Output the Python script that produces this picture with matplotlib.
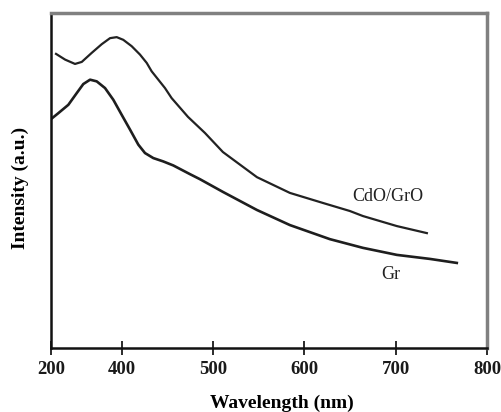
import matplotlib
matplotlib.use("Agg")
import matplotlib.pyplot as plt

# CdO/GrO curve (upper)
cdo_wl = [327.7, 337.6, 348.5, 355.9, 366.8, 377.8, 386.9, 394.2, 401.4, 410.6,
          419.7, 427.1, 432.5, 439.8, 447.1, 454.4, 472.3, 490.9, 510.6, 547.9,
          584.0, 620.2, 649.7, 664.0, 701.2, 734.1]
cdo_int = [0.878, 0.861, 0.848, 0.854, 0.881, 0.907, 0.925, 0.928, 0.920, 0.901,
           0.876, 0.851, 0.826, 0.801, 0.776, 0.746, 0.690, 0.642, 0.585, 0.510,
           0.463, 0.433, 0.409, 0.394, 0.364, 0.343]

# Gr curve (lower)
gr_wl = [322.5, 330.2, 341.2, 350.4, 357.6, 365.0, 372.3, 381.4, 390.5, 399.7,
         408.8, 417.9, 425.2, 434.3, 445.2, 456.2, 474.5, 485.4, 510.6, 547.9,
         584.0, 627.8, 664.0, 701.2, 737.4, 766.9]
gr_int = [0.684, 0.701, 0.726, 0.761, 0.788, 0.801, 0.796, 0.776, 0.741, 0.696,
          0.652, 0.607, 0.582, 0.567, 0.557, 0.545, 0.519, 0.504, 0.466, 0.412,
          0.367, 0.325, 0.299, 0.278, 0.266, 0.254]

# x axis ticks as printed on the original (left end is labelled 200)
x_min, x_max = 322.2, 800
tick_pos = [x_min, 400, 500, 600, 700, 800]
tick_labels = ["200", "400", "500", "600", "700", "800"]

serif = ["Liberation Serif", "DejaVu Serif"]

fig = plt.figure(figsize=(5.02, 4.12), dpi=100)
ax = fig.add_axes([0.1016, 0.1553, 0.8685, 0.8131])

ax.plot(cdo_wl, cdo_int, color="#222222", lw=1.6, solid_joinstyle="round")
ax.plot(gr_wl, gr_int, color="#1e1e1e", lw=1.9, solid_joinstyle="round")

ax.set_xlim(x_min, x_max)
ax.set_ylim(0, 1)

ax.set_xticks(tick_pos)
ax.set_xticklabels(tick_labels, family=serif, fontweight="bold", fontsize=13.5)
ax.tick_params(axis="x", direction="inout", length=10, width=1.3, pad=4, colors="#1a1a1a")
ax.set_yticks([])

for side in ["left", "bottom"]:
    ax.spines[side].set_color("#111111")
    ax.spines[side].set_linewidth(1.8)
for side in ["top", "right"]:
    ax.spines[side].set_color("#808080")
    ax.spines[side].set_linewidth(2.5)

ax.text(690.8, 0.451, "CdO/GrO", family=serif, fontsize=13, color="#222222",
        ha="center", va="center")
ax.text(694.6, 0.218, "Gr", family=serif, fontsize=13, color="#222222",
        ha="center", va="center")

ax.set_xlabel("Wavelength (nm)", family=serif, fontweight="bold", fontsize=14)
ax.xaxis.set_label_coords(0.530, -0.164)
ax.xaxis.label.set_va("center")
ax.set_ylabel("Intensity (a.u.)", family=serif, fontweight="bold", fontsize=14)
ax.yaxis.set_label_coords(-0.071, 0.478)
ax.yaxis.label.set_va("center")

fig.savefig("out.png", dpi=100)
